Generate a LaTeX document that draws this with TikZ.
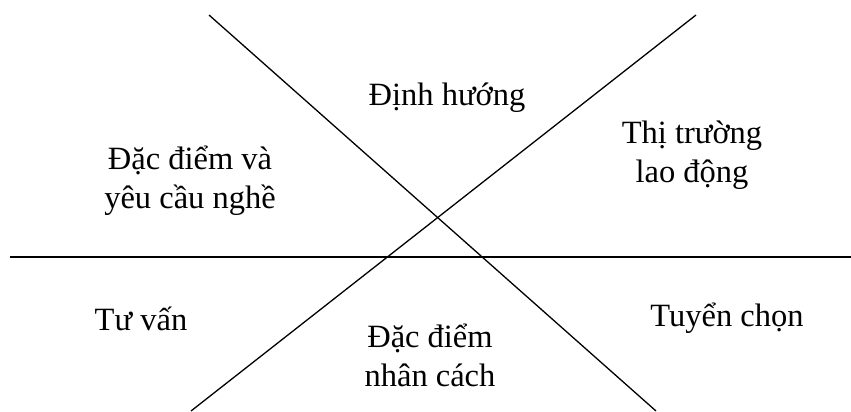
\documentclass[tikz,border=0pt]{standalone}
\usepackage{fontspec}
\setmainfont{Liberation Serif}
\begin{document}
\begin{tikzpicture}[x=1pt,y=-1pt,
  lbl/.style={align=center,font=\fontsize{32.5}{39.5}\selectfont,inner sep=0pt,anchor=base},
  ln/.style={line width=1.3pt}]
\useasboundingbox (0,0) rectangle (851,412);
\coordinate (a1) at (209,15);
\coordinate (a2) at (656,411);
\coordinate (b1) at (696,15);
\coordinate (b2) at (191,411);
\coordinate (h1) at (10,257);
\coordinate (h2) at (851,257);
\draw[ln] (a1) -- (a2);
\draw[ln] (b1) -- (b2);
\draw[ln] (h1) -- (h2);
\node[lbl] (dh) at (447,105) {Định hướng};
\node[lbl] (tt) at (692,182.5) {Thị trường\\lao động};
\node[lbl] (dd) at (190,208.5) {Đặc điểm và\\yêu cầu nghề};
\node[lbl] (tv) at (141,330) {Tư vấn};
\node[lbl] (nc) at (430,386.5) {Đặc điểm\\nhân cách};
\node[lbl] (tc) at (727,326) {Tuyển chọn};
\end{tikzpicture}
\end{document}
